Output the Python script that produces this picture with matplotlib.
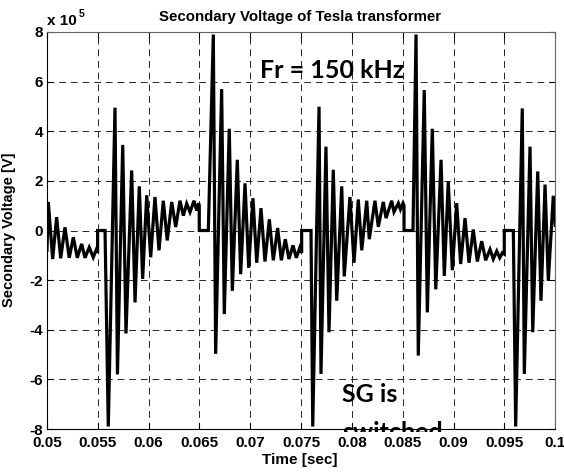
import matplotlib
matplotlib.use("Agg")
import numpy as np
import matplotlib.pyplot as plt
from matplotlib.patches import Rectangle

# secondary voltage, values in units of 1e5 V, read off the picture as the
# sequence of turning points of the trace (steps = repeated time value)
t_pre = [0.05000, 0.05013, 0.05056, 0.05095, 0.05135, 0.05177, 0.05219, 0.05259,
         0.05298, 0.05341, 0.05374, 0.05416, 0.05455, 0.05487]
v_pre = [-0.8, 1.15, -1.15, 0.54, -1.12, 0.13, -1.1, -0.27,
         -1.1, -0.54, -1.1, -0.68, -1.08, -0.75]

t_b1 = [0.05498, 0.05498, 0.05571, 0.05603, 0.05669, 0.05693, 0.05745, 0.05777,
        0.05833, 0.05866, 0.05908, 0.05941, 0.05981, 0.06020, 0.06062, 0.06102,
        0.06144, 0.06183, 0.06227, 0.06266, 0.06308, 0.06341, 0.06374, 0.06407,
        0.06446, 0.06473, 0.06492]
v_b1 = [-0.9, 0.0, 0.0, -7.9, 4.95, -5.8, 3.45, -4.15,
        2.42, -2.9, 1.78, -1.95, 1.42, -1.08, 1.35, -0.8,
        1.2, -0.4, 1.15, 0.14, 1.2, 0.6, 1.08, 0.74,
        1.2, 0.8, 1.1]

t_b2 = [0.06498, 0.06498, 0.06587, 0.06636, 0.06659, 0.06718, 0.06744, 0.06793,
        0.06823, 0.06872, 0.06905, 0.06948, 0.06984, 0.07026, 0.07063, 0.07105,
        0.07144, 0.07187, 0.07226, 0.07269, 0.07305, 0.07344, 0.07380, 0.07420,
        0.07452, 0.07486]
v_b2 = [1.0, 0.0, 0.0, 7.9, -4.97, 5.7, -3.37, 4.1,
        -2.43, 2.85, -1.76, 1.9, -1.5, 1.3, -1.3, 0.9,
        -1.25, 0.45, -1.2, 0.1, -1.2, -0.35, -1.15, -0.6,
        -1.1, -0.7]

t_b3 = [0.07505, 0.07505, 0.07597, 0.07614, 0.07676, 0.07695, 0.07744, 0.07774,
        0.07816, 0.07850, 0.07899, 0.07924, 0.07980, 0.08020, 0.08062, 0.08096,
        0.08145, 0.08170, 0.08226, 0.08259, 0.08308, 0.08335, 0.08391, 0.08413,
        0.08456, 0.08477, 0.08502]
v_b3 = [-0.9, 0.0, 0.0, -7.9, 4.99, -5.78, 3.38, -4.1,
        2.45, -2.83, 1.78, -1.85, 1.35, -1.3, 1.25, -0.8,
        1.2, -0.35, 1.2, 0.15, 1.15, 0.5, 1.2, 0.75,
        1.1, 0.85, 1.1]

t_b4 = [0.08512, 0.08512, 0.08600, 0.08630, 0.08652, 0.08711, 0.08741, 0.08790,
        0.08824, 0.08876, 0.08908, 0.08947, 0.08987, 0.09030, 0.09069, 0.09112,
        0.09151, 0.09193, 0.09233, 0.09276, 0.09315, 0.09358, 0.09390, 0.09424,
        0.09453, 0.09479]
v_b4 = [1.0, 0.0, 0.0, 7.9, -5.04, 5.66, -3.3, 4.1,
        -2.37, 2.85, -1.83, 1.98, -1.6, 1.1, -1.35, 0.5,
        -1.3, 0.04, -1.25, -0.43, -1.2, -0.76, -1.15, -0.83,
        -1.1, -0.9]

t_b5 = [0.09498, 0.09498, 0.09587, 0.09610, 0.09675, 0.09695, 0.09751, 0.09778,
        0.09827, 0.09859, 0.09899, 0.09931, 0.09980, 0.10000]
v_b5 = [-0.95, 0.0, 0.0, -7.9, 4.92, -5.78, 3.38, -4.1,
        2.38, -2.83, 1.85, -2.03, 1.4, 0.2]

xticks = [0.05, 0.055, 0.06, 0.065, 0.07, 0.075, 0.08, 0.085, 0.09, 0.095, 0.1]
xticklabels = ["0.05", "0.055", "0.06", "0.065", "0.07", "0.075", "0.08",
               "0.085", "0.09", "0.095", "0.1"]
yticks = [-8, -6, -4, -2, 0, 2, 4, 6, 8]

t = np.concatenate([t_pre, t_b1, t_b2, t_b3, t_b4, t_b5])
v = np.concatenate([v_pre, v_b1, v_b2, v_b3, v_b4, v_b5])

plt.rcParams['font.family'] = ['Liberation Sans', 'DejaVu Sans']
plt.rcParams['axes.unicode_minus'] = False

fig = plt.figure(figsize=(5.64, 4.74), dpi=100)
ax = fig.add_axes([0.0833, 0.0949, 0.9013, 0.8376])

ax.plot(t, v, color='black', linewidth=2.3, solid_joinstyle='miter')

ax.set_xlim(0.05, 0.1)
ax.set_ylim(-8, 8)
ax.set_xticks(xticks)
ax.set_xticklabels(xticklabels, fontsize=11, fontweight='bold')
ax.set_yticks(yticks)
ax.set_yticklabels([str(y) for y in yticks], fontsize=11, fontweight='bold')
ax.tick_params(direction='in', length=4, width=0.8, top=True, right=True)
ax.tick_params(axis='x', pad=5)
ax.tick_params(axis='y', pad=3)
ax.grid(True, color='0.15', linestyle=(0, (7, 5)), linewidth=0.7)
for s in ax.spines.values():
    s.set_linewidth(0.8)
ax.spines['top'].set_color('0.4')
ax.spines['right'].set_color('0.4')

fig.text(0.532, 0.9557, "Secondary Voltage of Tesla transformer",
         ha='center', va='baseline', fontsize=10.8, fontweight='bold')
fig.text(47 / 564, 1 - 25 / 474, "x 10", ha='left', va='baseline',
         fontsize=11, fontweight='bold')
fig.text(79 / 564, 1 - 17 / 474, "5", ha='left', va='baseline',
         fontsize=7.5, fontweight='bold')
fig.text(0.531, 1 - 464 / 474, "Time [sec]", ha='center', va='baseline',
         fontsize=11, fontweight='bold')
fig.text(9 / 564, 0.515, "Secondary Voltage [V]", rotation=90,
         ha='center', va='center', fontsize=10.5, fontweight='bold')

ax.text(0.07095, 6.14, "Fr = 150 kHz", ha='left', va='baseline',
        fontsize=18, fontweight='bold', family=['Lato', 'DejaVu Sans'])
ax.text(0.07902, -6.92, "SG is", ha='left', va='baseline',
        fontsize=18, fontweight='bold', family=['Lato', 'DejaVu Sans'])
# second line is cut off just under the frame, as in the original
sw = ax.text(0.07902, -8.45, "switched", ha='left', va='baseline',
             fontsize=18, fontweight='bold', family=['Lato', 'DejaVu Sans'])
clip = Rectangle((0, -0.008), 1, 1.008, transform=ax.transAxes)
sw.set_clip_path(clip)
sw.set_clip_on(True)

fig.savefig("out.png", dpi=100)
